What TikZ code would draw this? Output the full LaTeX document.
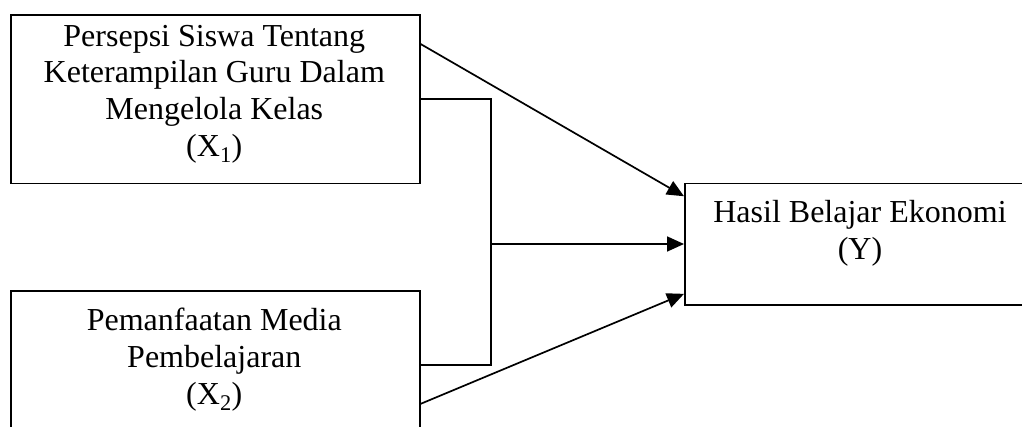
\documentclass[tikz,border=0pt]{standalone}
\usepackage{fontspec}
\setmainfont{Liberation Serif}
\usetikzlibrary{arrows.meta}
\begin{document}
\begin{tikzpicture}[x=1pt,y=-1pt,
  box/.style={draw, line width=1.8pt, rectangle, inner sep=0pt, anchor=north west},
  lbl/.style={align=center, inner sep=0pt, anchor=north, font=\fontsize{32}{36.8}\selectfont},
  conn/.style={line width=1.7pt},
  arr/.style={conn, -{Triangle[length=17pt,width=15pt]}}]
\useasboundingbox (0,0) rectangle (1022,427);
\clip (0,0) rectangle (1022,427);
% boxes
\node[box, minimum width=408.7pt, minimum height=168.7pt] (x1) at (10,14) {};
\node[box, minimum width=408.7pt, minimum height=140pt] (x2) at (10,290) {};
\node[box, minimum width=352pt, minimum height=121.3pt] (y) at (684,182.7) {};
% texts
\node[lbl] (t1) at (214.3,24.7) {Persepsi Siswa Tentang\\Keterampilan Guru Dalam\\Mengelola Kelas\\(X\textsubscript{1})};
\node[lbl] (t2) at (214.3,308) {Pemanfaatan Media\\Pembelajaran\\(X\textsubscript{2})};
\node[lbl] (t3) at (860,200) {Hasil Belajar Ekonomi\\(Y)};
% connectors
\coordinate (j) at (491,244);
\draw[arr] ([yshift=55.3pt]x1.east) -- ([yshift=48pt]y.west);
\draw[conn] (x1.east) -| (j) |- ([yshift=-4pt]x2.east);
\draw[arr] (j) -- (y.west |- j);
\draw[arr] ([yshift=-43pt]x2.east) -- ([yshift=-49.6pt]y.west);
\end{tikzpicture}
\end{document}
